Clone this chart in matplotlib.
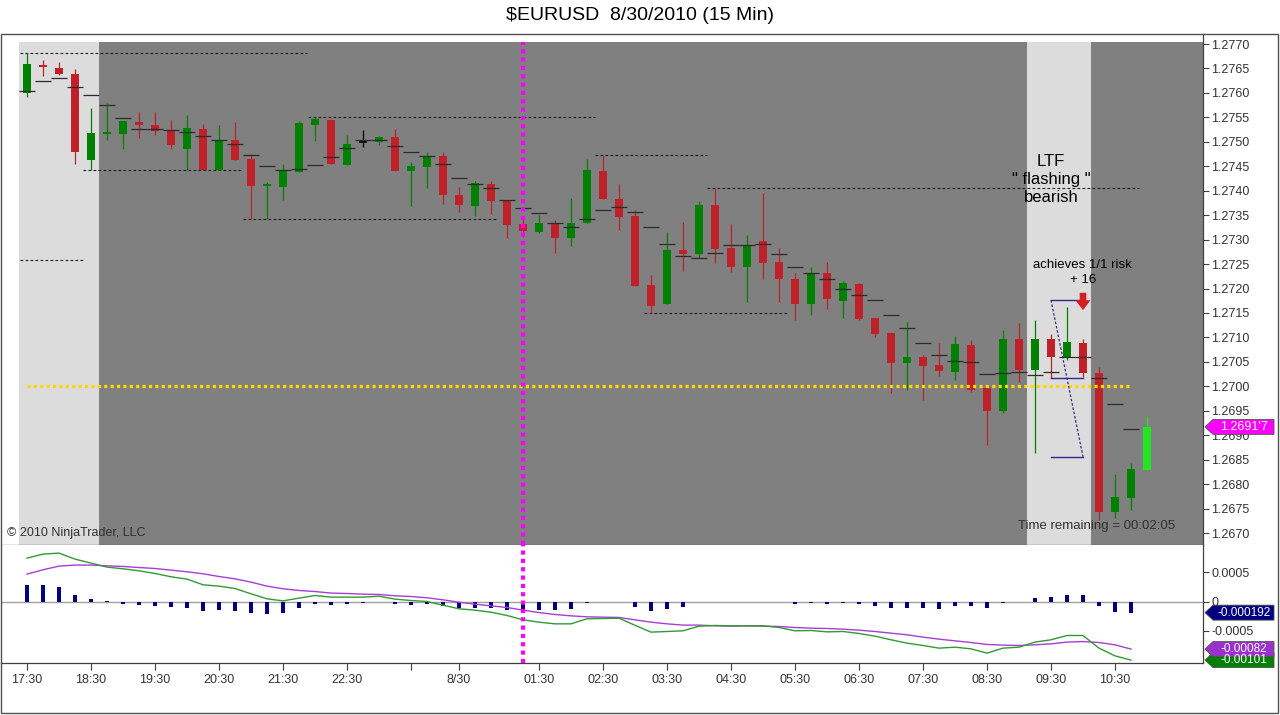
import matplotlib
matplotlib.use("Agg")
import matplotlib.pyplot as plt
from matplotlib.patches import Rectangle, Polygon

plt.rcParams['font.family'] = ['Liberation Sans', 'DejaVu Sans']

# ---- 15 min bars, index 0 = 17:30 ----
opens = [1.27599, 1.27657, 1.27651, 1.27639, 1.27463, 1.27517, 1.27517, 1.27540, 1.27534, 1.27524,
         1.27486, 1.27526, 1.27442, 1.27504, 1.27465, 1.27409, 1.27408, 1.27439, 1.27535, 1.27545,
         1.27453, 1.27499, 1.27499, 1.27510, 1.27440, 1.27449, 1.27470, 1.27391, 1.27369, 1.27414,
         1.27382, 1.27331, 1.27316, 1.27331, 1.27304, 1.27333, 1.27440, 1.27384, 1.27348, 1.27207,
         1.27168, 1.27279, 1.27271, 1.27371, 1.27283, 1.27243, 1.27297, 1.27254, 1.27219, 1.27169,
         1.27231, 1.27175, 1.27209, 1.27139, 1.27109, 1.27048, 1.27059, 1.27044, 1.27030, 1.27084,
         1.26996, 1.26950, 1.27097, 1.27033, 1.27097, 1.27057, 1.27089, 1.27027, 1.26742, 1.26771,
         1.26829]
highs = [1.27681, 1.27667, 1.27663, 1.27648, 1.27569, 1.27580, 1.27543, 1.27561, 1.27561, 1.27545,
         1.27555, 1.27536, 1.27534, 1.27540, 1.27475, 1.27418, 1.27454, 1.27543, 1.27550, 1.27547,
         1.27514, 1.27524, 1.27512, 1.27526, 1.27459, 1.27479, 1.27479, 1.27408, 1.27420, 1.27420,
         1.27382, 1.27344, 1.27350, 1.27340, 1.27386, 1.27464, 1.27473, 1.27413, 1.27361, 1.27228,
         1.27315, 1.27337, 1.27378, 1.27405, 1.27331, 1.27309, 1.27395, 1.27283, 1.27231, 1.27245,
         1.27255, 1.27215, 1.27212, 1.27140, 1.27110, 1.27131, 1.27064, 1.27088, 1.27103, 1.27095,
         1.26997, 1.27115, 1.27129, 1.27136, 1.27106, 1.27163, 1.27096, 1.27040, 1.26821, 1.26843,
         1.26940]
lows = [1.27591, 1.27635, 1.27637, 1.27455, 1.27442, 1.27504, 1.27485, 1.27507, 1.27513, 1.27486,
        1.27442, 1.27442, 1.27442, 1.27463, 1.27342, 1.27342, 1.27382, 1.27439, 1.27502, 1.27455,
        1.27453, 1.27489, 1.27493, 1.27441, 1.27369, 1.27406, 1.27372, 1.27357, 1.27348, 1.27352,
        1.27303, 1.27305, 1.27313, 1.27272, 1.27287, 1.27333, 1.27383, 1.27320, 1.27206, 1.27149,
        1.27168, 1.27236, 1.27262, 1.27252, 1.27233, 1.27173, 1.27219, 1.27172, 1.27136, 1.27146,
        1.27159, 1.27140, 1.27135, 1.27101, 1.26987, 1.26992, 1.26972, 1.27022, 1.27013, 1.26989,
        1.26880, 1.26945, 1.27009, 1.26864, 1.27016, 1.27054, 1.27020, 1.26727, 1.26730, 1.26748,
        1.26829]
closes = [1.27659, 1.27652, 1.27639, 1.27480, 1.27518, 1.27521, 1.27543, 1.27534, 1.27523, 1.27493,
          1.27528, 1.27442, 1.27504, 1.27463, 1.27410, 1.27413, 1.27442, 1.27538, 1.27547, 1.27455,
          1.27496, 1.27499, 1.27510, 1.27441, 1.27450, 1.27471, 1.27392, 1.27371, 1.27415, 1.27380,
          1.27330, 1.27318, 1.27333, 1.27304, 1.27333, 1.27442, 1.27383, 1.27347, 1.27206, 1.27165,
          1.27279, 1.27271, 1.27371, 1.27281, 1.27245, 1.27290, 1.27253, 1.27220, 1.27169, 1.27231,
          1.27178, 1.27211, 1.27137, 1.27107, 1.27048, 1.27059, 1.27042, 1.27031, 1.27087, 1.26992,
          1.26950, 1.27097, 1.27033, 1.27097, 1.27059, 1.27091, 1.27028, 1.26744, 1.26773, 1.26831,
          1.26917]

# hash marks (plotted on closed bars only)
hash_vals = [1.27603, 1.27624, 1.27630, 1.27613, 1.27595, 1.27575, 1.27548, 1.27526, 1.27526, 1.27524,
             1.27521, 1.27511, 1.27504, 1.27495, 1.27474, 1.27450, 1.27442, 1.27444, 1.27452, 1.27468,
             1.27487, 1.27504, 1.27503, 1.27491, 1.27479, 1.27471, 1.27454, 1.27427, 1.27414, 1.27405,
             1.27382, 1.27364, 1.27354, 1.27335, 1.27326, 1.27342, 1.27360, 1.27366, 1.27356, 1.27325,
             1.27292, 1.27266, 1.27262, 1.27272, 1.27290, 1.27290, 1.27292, 1.27270, 1.27243, 1.27231,
             1.27219, 1.27199, 1.27186, 1.27176, 1.27145, 1.27119, 1.27088, 1.27065, 1.27052, 1.27049,
             1.27025, 1.27028, 1.27030, 1.27023, 1.27030, 1.27060, 1.27059, 1.27016, 1.26963, 1.26913]

# swing high / low dashed lines
swing_level = [1.27681, 1.27258, 1.27442, 1.27550, 1.27342, 1.27473, 1.27406, 1.27150]
swing_from = [-0.44, -0.44, 3.5, 17.56, 13.5, 35.5, 42.5, 38.56]
swing_to = [17.5, 3.5, 13.5, 35.5, 29.4, 42.5, 69.5, 47.5]

# session background
session_edges = [-0.5, 4.5, 62.5, 66.5, 73.5]
session_colors = ['#DCDCDC', '#808080', '#DCDCDC', '#808080']

# MACD panel
macd = [0.000748, 0.000817, 0.000834, 0.000731, 0.000662, 0.000593, 0.000564, 0.000529, 0.000483, 0.000426,
        0.000386, 0.000288, 0.000265, 0.000224, 0.000133, 0.000046, 0.000011, 0.000058, 0.000104, 0.000075,
        0.000075, 0.000075, 0.000092, 0.000041, 0.000017, 0.0, -0.000063, -0.000126, -0.000149, -0.000184,
        -0.000241, -0.000316, -0.000356, -0.000385, -0.000385, -0.000298, -0.000293, -0.000287, -0.000410, -0.000528,
        -0.000517, -0.000505, -0.000425, -0.000413, -0.000419, -0.000419, -0.000419, -0.000448, -0.000505, -0.000500,
        -0.000523, -0.000517, -0.000551, -0.000597, -0.000660, -0.000718, -0.000758, -0.000804, -0.000787, -0.000816,
        -0.000890, -0.000804, -0.000787, -0.000700, -0.000660, -0.000586, -0.000586, -0.000804, -0.000937, -0.001010]
signal = [0.000472, 0.000547, 0.000610, 0.000628, 0.000628, 0.000615, 0.000604, 0.000586, 0.000569, 0.000541,
          0.000512, 0.000478, 0.000431, 0.000391, 0.000334, 0.000265, 0.000219, 0.000190, 0.000172, 0.000145,
          0.000138, 0.000127, 0.000121, 0.000098, 0.000086, 0.000064, 0.000029, -0.000012, -0.000046, -0.000075,
          -0.000103, -0.000149, -0.000190, -0.000224, -0.000247, -0.000264, -0.000270, -0.000275, -0.000316, -0.000356,
          -0.000385, -0.000407, -0.000407, -0.000419, -0.000425, -0.000419, -0.000425, -0.000431, -0.000448, -0.000460,
          -0.000465, -0.000477, -0.000494, -0.000517, -0.000546, -0.000574, -0.000614, -0.000649, -0.000678, -0.000707,
          -0.000741, -0.000752, -0.000758, -0.000747, -0.000730, -0.000700, -0.000690, -0.000707, -0.000747, -0.000820]
hist = [0.000287, 0.000287, 0.000253, 0.000115, 0.000046, 0.000010, -0.000040, -0.000057, -0.000075, -0.000103,
        -0.000106, -0.000158, -0.000143, -0.000158, -0.000192, -0.000210, -0.000192, -0.000106, -0.000043, -0.000057,
        -0.000043, -0.000023, -0.000011, -0.000043, -0.000057, -0.000043, -0.000086, -0.000118, -0.000109, -0.000109,
        -0.000143, -0.000135, -0.000143, -0.000149, -0.000123, -0.000023, -0.000005, -0.000011, -0.000090, -0.000158,
        -0.000123, -0.000090, -0.000011, -0.000003, -0.000011, -0.000003, -0.000003, -0.000011, -0.000037, -0.000026,
        -0.000037, -0.000026, -0.000037, -0.000072, -0.000120, -0.000120, -0.000120, -0.000123, -0.000072, -0.000086,
        -0.000120, -0.000020, -0.000011, 0.000057, 0.000080, 0.000109, 0.000109, -0.000069, -0.000180, -0.000192]

tick_bars = [0, 4, 8, 12, 16, 20, 24, 27, 32, 36, 40, 44, 48, 52, 56, 60, 64, 68]
tick_labels = ['17:30', '18:30', '19:30', '20:30', '21:30', '22:30', '', '8/30', '01:30', '02:30',
               '03:30', '04:30', '05:30', '06:30', '07:30', '08:30', '09:30', '10:30']

level_line = 1.2700
marker_bar = 31
risk_bars = [64, 66]
risk_levels = [1.27176, 1.27016, 1.26856]

# ---- figure ----
W, H = 1280, 715
fig = plt.figure(figsize=(12.8, 7.15), dpi=100)


def fx(px):
    return px / W


def fy(py):
    return 1 - py / H


ax = fig.add_axes([fx(1), fy(545), fx(1203) - fx(1), fy(34) - fy(545)])
ai = fig.add_axes([fx(1), fy(663), fx(1203) - fx(1), fy(545) - fy(663)])

XMIN, XMAX = -1.625, 73.5
PMIN, PMAX = 1.266755, 1.277205
SHADE_TOP = 1.27704
IMIN, IMAX = -0.00106, 0.000974

for x0, x1, c in zip(session_edges[:-1], session_edges[1:], session_colors):
    ax.add_patch(Rectangle((x0, PMIN), x1 - x0, SHADE_TOP - PMIN, facecolor=c, edgecolor='none', zorder=0))

# swing lines
for lvl, a, b in zip(swing_level, swing_from, swing_to):
    ax.plot([a, b], [lvl, lvl], color='#1e1e1e', lw=0.8, ls=(0, (2.5, 2)), zorder=2)

# candles
n = len(closes)
for i in range(n):
    o, h, l, c = opens[i], highs[i], lows[i], closes[i]
    if i == n - 1:
        col = '#22E622'
    elif c > o:
        col = '#008000'
    elif c < o:
        col = '#C0202A'
    else:
        col = 'black'
    ax.vlines(i, l, h, color=col, lw=0.9, zorder=3)
    if c == o:
        ax.hlines(o, i - 0.25, i + 0.25, color=col, lw=1.2, zorder=3)
    else:
        ax.bar(i, max(abs(c - o), 0.00003), bottom=min(o, c), width=0.44, color=col, lw=0, zorder=3)

idx = list(range(len(hash_vals)))
ax.hlines(hash_vals, [i - 0.48 for i in idx], [i + 0.48 for i in idx], color='#2b2b2b', lw=0.9, zorder=4)

# level and marker lines
ax.plot([0, 68.9], [level_line, level_line], color='#FFD700', lw=2.3, ls=(0, (1, 1)), zorder=5)
ax.plot([marker_bar, marker_bar], [PMIN, SHADE_TOP], color='#FF00FF', lw=3, ls=(0, (1, 1)), zorder=5)

# risk drawing
pc = '#40208A'
for lvl in risk_levels:
    ax.plot(risk_bars, [lvl, lvl], color=pc, lw=1, zorder=6)
ax.plot(risk_bars, [risk_levels[0], risk_levels[2]], color=pc, lw=0.9, ls=(0, (2, 1.5)), zorder=6)
ax.annotate('', xy=(66, 1.27150), xytext=(66, 1.27197),
            arrowprops=dict(arrowstyle='simple,head_length=0.6,head_width=0.9,tail_width=0.4',
                            color='#D42020', lw=0, mutation_scale=12), zorder=7)

ax.text(64, 1.27422, 'LTF\n" flashing "\nbearish', ha='center', va='center', fontsize=12,
        linespacing=1.25, color='black', zorder=7)
ax.text(65.94, 1.27248, 'achieves 1/1 risk', ha='center', va='center', fontsize=9.5, zorder=7)
ax.text(66, 1.27217, '+ 16', ha='center', va='center', fontsize=9.5, zorder=7)
ax.text(71.75, 1.26714, 'Time remaining = 00:02:05', ha='right', va='center', fontsize=9.5,
        color='#303030', zorder=7)

ax.set_xlim(XMIN, XMAX)
ax.set_ylim(PMIN, PMAX)
ax.set_facecolor('white')
ax.set_yticks([1.2670 + 0.0005 * k for k in range(21)])
ax.set_yticklabels(['%.4f' % (1.2670 + 0.0005 * k) for k in range(21)])
ax.yaxis.tick_right()
ax.tick_params(axis='y', direction='out', length=4.5, width=0.8, colors='#404040',
               labelcolor='#333333', labelsize=9, pad=1.5)
ax.tick_params(axis='x', bottom=False, labelbottom=False)
for s in ['top', 'left']:
    ax.spines[s].set_visible(False)
for s in ['right', 'bottom']:
    ax.spines[s].set_color('#404040')
    ax.spines[s].set_linewidth(0.9)

# ---- MACD panel ----
mi = list(range(len(macd)))
ai.axhline(0, color='#A0A0A0', lw=1, zorder=1)
ai.bar(mi, hist, width=0.2, color='#000080', lw=0, zorder=3)
ai.plot(mi, signal, color='#A63ED6', lw=1.0, zorder=4)
ai.plot(mi, macd, color='#339933', lw=1.0, zorder=4)
ai.plot([marker_bar, marker_bar], [IMIN, IMAX], color='#FF00FF', lw=3, ls=(0, (1, 1)), zorder=5)

ai.set_xlim(XMIN, XMAX)
ai.set_ylim(IMIN, IMAX)
ai.set_yticks([0.0005, 0, -0.0005])
ai.set_yticklabels(['0.0005', '0', '-0.0005'])
ai.yaxis.tick_right()
ai.tick_params(axis='y', direction='out', length=4.5, width=0.8, colors='#404040',
               labelcolor='#333333', labelsize=9, pad=1.5)
ai.set_xticks(tick_bars)
ai.set_xticklabels(tick_labels)
ai.tick_params(axis='x', direction='out', length=5, width=0.8, colors='#404040',
               labelcolor='#333333', labelsize=9, pad=3)
for s in ['top', 'left']:
    ai.spines[s].set_visible(False)
for s in ['right', 'bottom']:
    ai.spines[s].set_color('#404040')
    ai.spines[s].set_linewidth(0.9)


def tag(axis, value, label, fc, fs=8.5):
    yd = axis.transData.transform((0, value))[1]
    yc = yd / H
    hh = 7.5 / H
    tip, bx, br = fx(1205), fx(1213), fx(1274)
    poly = Polygon([(tip, yc), (bx, yc + hh), (br, yc + hh), (br, yc - hh), (bx, yc - hh)],
                   closed=True, transform=fig.transFigure, facecolor=fc, edgecolor='#555555', lw=0.6)
    fig.add_artist(poly)
    fig.text(fx(1244), yc, label, color='white', fontsize=fs, ha='center', va='center')


tag(ax, closes[-1], "1.2691'7", '#FF00FF', 9)
tag(ai, macd[-1], '-0.00101', '#008000')
tag(ai, signal[-1], '-0.00082', '#9932CC')
tag(ai, hist[-1], '-0.000192', '#000080')

# frame, title, copyright
fig.add_artist(Rectangle((fx(1), fy(713)), fx(1278) - fx(1), fy(34) - fy(713), transform=fig.transFigure,
                         fill=False, edgecolor='#505050', lw=1))
fig.text(0.5, fy(16), '$EURUSD  8/30/2010 (15 Min)', ha='center', va='center', fontsize=14)
fig.text(fx(7), fy(533), '\u00a9 2010 NinjaTrader, LLC', ha='left', va='center', fontsize=9, color='#303030')

fig.savefig('out.png', dpi=100)
